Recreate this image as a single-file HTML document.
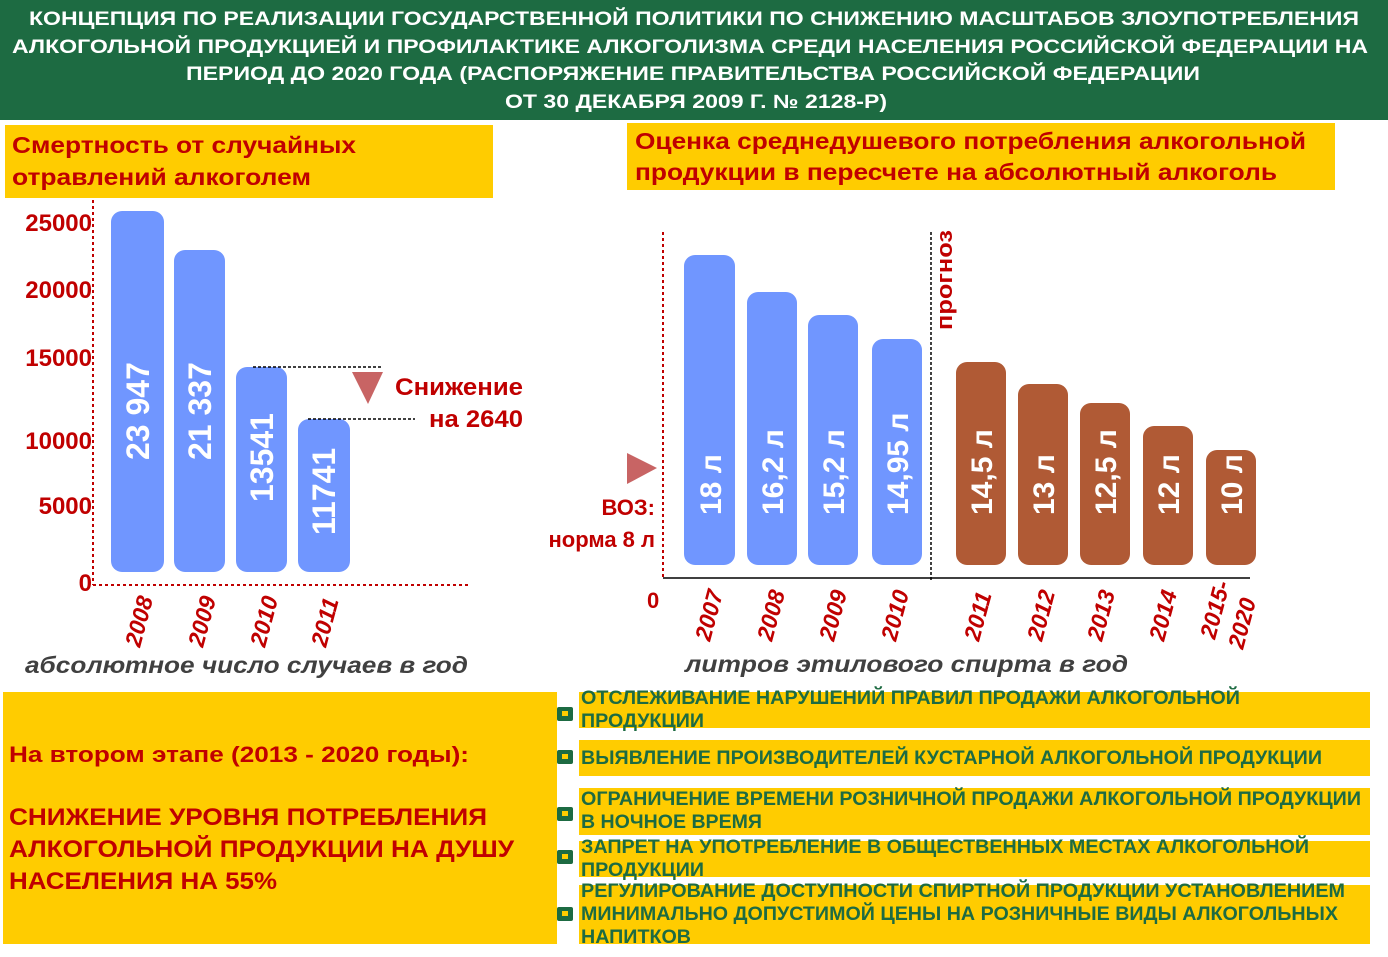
<!DOCTYPE html>
<html><head><meta charset="utf-8"><style>
html,body{margin:0;padding:0;background:#fff;}
svg{display:block;font-family:"Liberation Sans","DejaVu Sans",sans-serif;font-weight:bold;}
</style></head><body>
<svg width="1388" height="957" viewBox="0 0 1388 957" xmlns="http://www.w3.org/2000/svg">
<rect x="0" y="0" width="1388" height="120" fill="#1d6b42"/>
<g fill="#fff" font-size="19" text-anchor="middle">
<text x="694" y="25" textLength="1330" lengthAdjust="spacingAndGlyphs">КОНЦЕПЦИЯ ПО РЕАЛИЗАЦИИ ГОСУДАРСТВЕННОЙ ПОЛИТИКИ ПО СНИЖЕНИЮ МАСШТАБОВ ЗЛОУПОТРЕБЛЕНИЯ</text>
<text x="690" y="53" textLength="1356" lengthAdjust="spacingAndGlyphs">АЛКОГОЛЬНОЙ ПРОДУКЦИЕЙ  И ПРОФИЛАКТИКЕ АЛКОГОЛИЗМА СРЕДИ НАСЕЛЕНИЯ РОССИЙСКОЙ ФЕДЕРАЦИИ НА</text>
<text x="693" y="80" textLength="1014" lengthAdjust="spacingAndGlyphs">ПЕРИОД ДО 2020 ГОДА (РАСПОРЯЖЕНИЕ ПРАВИТЕЛЬСТВА РОССИЙСКОЙ ФЕДЕРАЦИИ</text>
<text x="696" y="108" textLength="382" lengthAdjust="spacingAndGlyphs">ОТ 30 ДЕКАБРЯ 2009 Г. № 2128-Р)</text>
</g>
<rect x="5" y="125" width="488" height="73" fill="#ffcc00"/>
<g fill="#c00000" font-size="23">
<text x="12" y="153" textLength="344" lengthAdjust="spacingAndGlyphs">Смертность от случайных</text>
<text x="12" y="185" textLength="299" lengthAdjust="spacingAndGlyphs">отравлений алкоголем</text>
</g>
<line x1="93" y1="200" x2="93" y2="585" stroke="#c00000" stroke-width="2" stroke-dasharray="3,3"/>
<line x1="93" y1="585" x2="470" y2="585" stroke="#c00000" stroke-width="2" stroke-dasharray="3,3"/>
<g fill="#c00000" font-size="24" text-anchor="end">
<text x="92" y="231">25000</text><text x="92" y="298">20000</text><text x="92" y="366">15000</text>
<text x="92" y="449">10000</text><text x="92" y="514">5000</text><text x="92" y="591">0</text>
</g>
<g fill="#7096ff">
<rect x="111" y="211" width="53" height="361" rx="11"/>
<rect x="174" y="250" width="51" height="322" rx="11"/>
<rect x="236" y="367" width="51" height="205" rx="11"/>
<rect x="298" y="419" width="52" height="153" rx="11"/>
</g>
<g fill="#fff" font-size="32">
<text transform="translate(149,460) rotate(-90)">23 947</text>
<text transform="translate(211,460) rotate(-90)">21 337</text>
<text transform="translate(273,502) rotate(-90)">13541</text>
<text transform="translate(335,535) rotate(-90)">11741</text>
</g>
<line x1="253" y1="367" x2="383" y2="367" stroke="#000" stroke-width="1.5" stroke-dasharray="3,2"/>
<line x1="308" y1="419" x2="415" y2="419" stroke="#000" stroke-width="1.5" stroke-dasharray="3,2"/>
<polygon points="352,372 383,372 368,404" fill="#c86464"/>
<g fill="#c00000" font-size="24">
<text x="395" y="395" textLength="128" lengthAdjust="spacingAndGlyphs">Снижение</text>
<text x="429" y="427" textLength="94" lengthAdjust="spacingAndGlyphs">на 2640</text>
</g>
<g fill="#c00000" font-size="23" font-style="italic">
<text transform="translate(140,648) rotate(-75)">2008</text>
<text transform="translate(203,648) rotate(-75)">2009</text>
<text transform="translate(265,648) rotate(-75)">2010</text>
<text transform="translate(326,648) rotate(-75)">2011</text>
</g>
<text x="25" y="673" fill="#404040" font-size="23" font-style="italic" textLength="443" lengthAdjust="spacingAndGlyphs">абсолютное число случаев в год</text>
<rect x="627" y="123" width="708" height="67" fill="#ffcc00"/>
<g fill="#c00000" font-size="23">
<text x="635" y="149" textLength="671" lengthAdjust="spacingAndGlyphs">Оценка среднедушевого потребления алкогольной</text>
<text x="635" y="180" textLength="642" lengthAdjust="spacingAndGlyphs">продукции в пересчете на абсолютный алкоголь</text>
</g>
<line x1="663" y1="232" x2="663" y2="578" stroke="#c00000" stroke-width="2" stroke-dasharray="3,3"/>
<line x1="663" y1="578" x2="1250" y2="578" stroke="#000" stroke-width="1.5"/>
<line x1="931" y1="232" x2="931" y2="580" stroke="#000" stroke-width="1.5" stroke-dasharray="3,2"/>
<text transform="translate(952,330) rotate(-90)" fill="#c00000" font-size="22" textLength="100" lengthAdjust="spacingAndGlyphs">прогноз</text>
<g fill="#7096ff">
<rect x="684" y="255" width="51" height="310" rx="11"/>
<rect x="747" y="292" width="50" height="273" rx="11"/>
<rect x="808" y="315" width="50" height="250" rx="11"/>
<rect x="872" y="339" width="50" height="226" rx="11"/>
</g>
<g fill="#b05a35">
<rect x="956" y="362" width="50" height="203" rx="11"/>
<rect x="1018" y="384" width="50" height="181" rx="11"/>
<rect x="1080" y="403" width="50" height="162" rx="11"/>
<rect x="1143" y="426" width="50" height="139" rx="11"/>
<rect x="1206" y="450" width="50" height="115" rx="11"/>
</g>
<g fill="#fff" font-size="30">
<text transform="translate(721,515) rotate(-90)">18 л</text>
<text transform="translate(783,515) rotate(-90)">16,2 л</text>
<text transform="translate(844,515) rotate(-90)">15,2 л</text>
<text transform="translate(908,515) rotate(-90)">14,95 л</text>
<text transform="translate(992,515) rotate(-90)">14,5 л</text>
<text transform="translate(1054,515) rotate(-90)">13 л</text>
<text transform="translate(1116,515) rotate(-90)">12,5 л</text>
<text transform="translate(1179,515) rotate(-90)">12 л</text>
<text transform="translate(1242,515) rotate(-90)">10 л</text>
</g>
<polygon points="627,453 657,468 627,484" fill="#c86464"/>
<g fill="#c00000" font-size="22" text-anchor="end">
<text x="655" y="515">ВОЗ:</text><text x="655" y="547">норма 8 л</text>
</g>
<text x="647" y="608" fill="#c00000" font-size="22">0</text>
<g fill="#c00000" font-size="23" font-style="italic">
<text transform="translate(710,642) rotate(-75)">2007</text>
<text transform="translate(772,642) rotate(-75)">2008</text>
<text transform="translate(834,642) rotate(-75)">2009</text>
<text transform="translate(896,642) rotate(-75)">2010</text>
<text transform="translate(979,642) rotate(-75)">2011</text>
<text transform="translate(1042,642) rotate(-75)">2012</text>
<text transform="translate(1102,642) rotate(-75)">2013</text>
<text transform="translate(1164,642) rotate(-75)">2014</text>
<text transform="translate(1215,640) rotate(-75)">2015-</text>
<text transform="translate(1243,650) rotate(-75)">2020</text>
</g>
<text x="685" y="672" fill="#404040" font-size="23" font-style="italic" textLength="443" lengthAdjust="spacingAndGlyphs">литров этилового спирта в год</text>
<rect x="3" y="692" width="554" height="252" fill="#ffcc00"/>
<g fill="#c00000">
<text x="9" y="762" font-size="22" textLength="460" lengthAdjust="spacingAndGlyphs">На втором этапе (2013 - 2020 годы):</text>
<text x="9" y="825" font-size="24" textLength="478" lengthAdjust="spacingAndGlyphs">СНИЖЕНИЕ УРОВНЯ ПОТРЕБЛЕНИЯ</text>
<text x="9" y="857" font-size="24" textLength="505" lengthAdjust="spacingAndGlyphs">АЛКОГОЛЬНОЙ ПРОДУКЦИИ НА ДУШУ</text>
<text x="9" y="889" font-size="24" textLength="268" lengthAdjust="spacingAndGlyphs">НАСЕЛЕНИЯ НА 55%</text>
</g>
<g fill="#ffcc00">
<rect x="579" y="692" width="791" height="36"/>
<rect x="579" y="740" width="791" height="36"/>
<rect x="579" y="788" width="791" height="47"/>
<rect x="579" y="841" width="791" height="36"/>
<rect x="579" y="885" width="791" height="59"/>
</g>
<g fill="#1d6b42">
<rect x="557" y="707" width="16" height="14" rx="2"/>
<rect x="557" y="750" width="16" height="14" rx="2"/>
<rect x="557" y="807" width="16" height="14" rx="2"/>
<rect x="557" y="850" width="16" height="14" rx="2"/>
<rect x="557" y="907" width="16" height="14" rx="2"/>
</g>
<g fill="#ffcc00">
<rect x="562" y="711" width="6" height="5"/><rect x="562" y="754" width="6" height="5"/>
<rect x="562" y="811" width="6" height="5"/><rect x="562" y="854" width="6" height="5"/>
<rect x="562" y="911" width="6" height="5"/>
</g>
<g fill="#1d6b42" font-size="19">
<text x="581" y="704" textLength="659" lengthAdjust="spacingAndGlyphs">ОТСЛЕЖИВАНИЕ НАРУШЕНИЙ ПРАВИЛ ПРОДАЖИ АЛКОГОЛЬНОЙ</text>
<text x="581" y="727" textLength="123" lengthAdjust="spacingAndGlyphs">ПРОДУКЦИИ</text>
<text x="581" y="764" textLength="741" lengthAdjust="spacingAndGlyphs">ВЫЯВЛЕНИЕ ПРОИЗВОДИТЕЛЕЙ КУСТАРНОЙ АЛКОГОЛЬНОЙ ПРОДУКЦИИ</text>
<text x="581" y="805" textLength="780" lengthAdjust="spacingAndGlyphs">ОГРАНИЧЕНИЕ ВРЕМЕНИ РОЗНИЧНОЙ ПРОДАЖИ АЛКОГОЛЬНОЙ ПРОДУКЦИИ</text>
<text x="581" y="828" textLength="181" lengthAdjust="spacingAndGlyphs">В НОЧНОЕ ВРЕМЯ</text>
<text x="581" y="853" textLength="728" lengthAdjust="spacingAndGlyphs">ЗАПРЕТ НА УПОТРЕБЛЕНИЕ В ОБЩЕСТВЕННЫХ МЕСТАХ АЛКОГОЛЬНОЙ</text>
<text x="581" y="876" textLength="123" lengthAdjust="spacingAndGlyphs">ПРОДУКЦИИ</text>
<text x="581" y="897" textLength="764" lengthAdjust="spacingAndGlyphs">РЕГУЛИРОВАНИЕ ДОСТУПНОСТИ СПИРТНОЙ ПРОДУКЦИИ УСТАНОВЛЕНИЕМ</text>
<text x="581" y="920" textLength="757" lengthAdjust="spacingAndGlyphs">МИНИМАЛЬНО ДОПУСТИМОЙ ЦЕНЫ НА РОЗНИЧНЫЕ ВИДЫ АЛКОГОЛЬНЫХ</text>
<text x="581" y="943" textLength="110" lengthAdjust="spacingAndGlyphs">НАПИТКОВ</text>
</g>
</svg>
</body></html>
